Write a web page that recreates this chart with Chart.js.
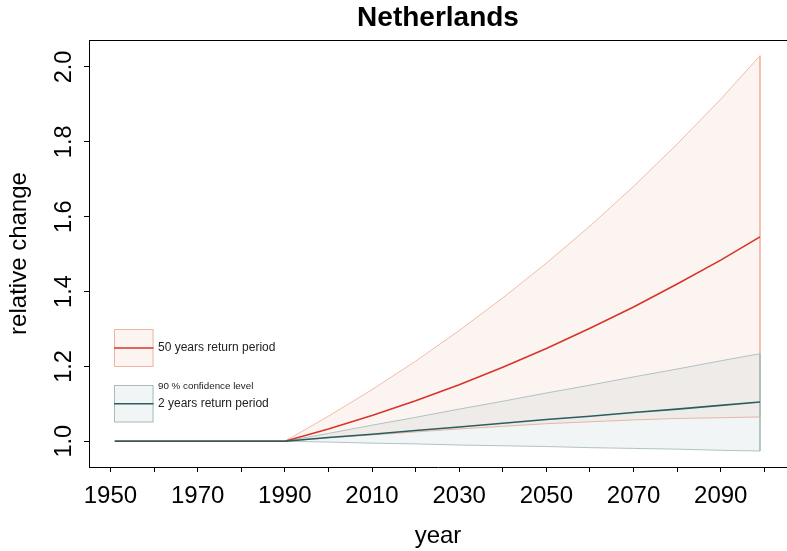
<!DOCTYPE html>
<html>
<head>
<meta charset="utf-8">
<title>Netherlands – relative change</title>
<script src="https://cdn.jsdelivr.net/npm/chart.js@4"></script>
<style>
  html, body { margin: 0; padding: 0; background: #fff; }
  canvas { display: block; }
</style>
</head>
<body>
<canvas id="chart" width="787" height="551"></canvas>
<script>
// Years at which the projections are given (flat baseline until 1990)
const years = [1951, 1990, 2000, 2010, 2020, 2030, 2040, 2050, 2060, 2070, 2080, 2090, 2099];

// 50 years return period: median and 90 % confidence band
const rp50Median = [1, 1, 1.033, 1.069, 1.108, 1.151, 1.198, 1.248, 1.302, 1.359, 1.420, 1.484, 1.546];
const rp50Upper  = [1, 1, 1.067, 1.138, 1.214, 1.296, 1.383, 1.476, 1.575, 1.681, 1.794, 1.914, 2.030];
const rp50Lower  = [1, 1, 1.009, 1.017, 1.025, 1.033, 1.040, 1.047, 1.052, 1.057, 1.061, 1.063, 1.065];

// 2 years return period: median and 90 % confidence band
const rp2Median = [1, 1, 1.010, 1.019, 1.029, 1.038, 1.048, 1.058, 1.067, 1.077, 1.086, 1.096, 1.105];
const rp2Upper  = [1, 1, 1.021, 1.043, 1.064, 1.086, 1.107, 1.129, 1.150, 1.172, 1.193, 1.215, 1.234];
const rp2Lower  = [1, 1, 0.998, 0.995, 0.993, 0.990, 0.988, 0.986, 0.983, 0.981, 0.979, 0.976, 0.974];

// Axis ticks and labels
const xTickYears  = [1950, 1960, 1970, 1980, 1990, 2000, 2010, 2020, 2030, 2040, 2050, 2060, 2070, 2080, 2090, 2100];
const xLabelYears = [1950, 1970, 1990, 2010, 2030, 2050, 2070, 2090];
const yTickValues = [1.0, 1.2, 1.4, 1.6, 1.8, 2.0];
const yTickLabels = ['1.0', '1.2', '1.4', '1.6', '1.8', '2.0'];

// Texts
const chartTitle = 'Netherlands';
const xTitle = 'year';
const yTitle = 'relative change';
const legendBandLabel = '90 % confidence level';
const legend50Label = '50 years return period';
const legend2Label = '2 years return period';

// Colours
const col50Line = '#d6352a';
const col50Edge = '#f1b4a0';
const col50Fill = 'rgba(220,120,80,0.08)';
const col2Line  = '#2b5e5e';
const col2Edge  = '#a9bcbc';
const col2Fill  = 'rgba(70,120,130,0.075)';

const FONT = "'Liberation Sans', Arial, Helvetica, sans-serif";

// Closed outline of a band: upper edge forward, lower edge backward
function bandPolygon(xs, upper, lower) {
  const pts = xs.map((x, i) => ({ x, y: upper[i] }));
  for (let i = xs.length - 1; i >= 0; i--) pts.push({ x: xs[i], y: lower[i] });
  return pts;
}
function series(xs, ys) {
  return xs.map((x, i) => ({ x, y: ys[i] }));
}

// Rotated y tick labels, legend and top frame line
const decorations = {
  id: 'decorations',
  afterDraw(chart) {
    const { ctx, chartArea, scales } = chart;
    const ys = scales.y;

    ctx.save();
    // frame: top edge
    ctx.strokeStyle = '#000';
    ctx.lineWidth = 1;
    ctx.beginPath();
    ctx.moveTo(chartArea.left, chartArea.top + 0.5);
    ctx.lineTo(chartArea.right, chartArea.top + 0.5);
    ctx.stroke();

    // y tick labels, reading upwards
    ctx.fillStyle = '#000';
    ctx.font = '23.5px ' + FONT;
    ctx.textAlign = 'center';
    ctx.textBaseline = 'alphabetic';
    yTickValues.forEach((v, i) => {
      const py = ys.getPixelForValue(v);
      ctx.save();
      ctx.translate(chartArea.left - 18, py);
      ctx.rotate(-Math.PI / 2);
      ctx.fillText(yTickLabels[i], 0, 0);
      ctx.restore();
    });

    // legend
    const bx = 114, bw = 39.5;
    function legendEntry(top, h, fill, edge, line) {
      ctx.fillStyle = '#fff';
      ctx.fillRect(bx, top, bw, h);
      ctx.fillStyle = fill;
      ctx.fillRect(bx, top, bw, h);
      ctx.strokeStyle = edge;
      ctx.lineWidth = 1;
      ctx.strokeRect(bx + 0.5, top + 0.5, bw - 1, h - 1);
      ctx.strokeStyle = line;
      ctx.lineWidth = 1.6;
      ctx.beginPath();
      ctx.moveTo(bx, top + h / 2);
      ctx.lineTo(bx + bw, top + h / 2);
      ctx.stroke();
    }
    legendEntry(329, 38, col50Fill, col50Edge, col50Line);
    legendEntry(385, 37.5, col2Fill, col2Edge, col2Line);

    ctx.fillStyle = '#222';
    ctx.textAlign = 'left';
    ctx.textBaseline = 'middle';
    ctx.font = '12px ' + FONT;
    ctx.fillText(legend50Label, 158, 348);
    ctx.fillText(legend2Label, 158, 404);
    ctx.font = '9.8px ' + FONT;
    ctx.fillText(legendBandLabel, 158, 386);
    ctx.restore();
  }
};

Chart.defaults.font.family = FONT;
Chart.defaults.color = '#000';

new Chart(document.getElementById('chart'), {
  type: 'line',
  data: {
    datasets: [
      {
        label: legend50Label + ' band',
        data: bandPolygon(years, rp50Upper, rp50Lower),
        borderColor: col50Edge,
        borderWidth: 0.9,
        backgroundColor: col50Fill,
        fill: 'shape',
        pointRadius: 0,
        tension: 0,
        order: 4
      },
      {
        label: legend2Label + ' band',
        data: bandPolygon(years, rp2Upper, rp2Lower),
        borderColor: col2Edge,
        borderWidth: 0.9,
        backgroundColor: col2Fill,
        fill: 'shape',
        pointRadius: 0,
        tension: 0,
        order: 3
      },
      {
        label: legend50Label,
        data: series(years, rp50Median),
        borderColor: col50Line,
        borderWidth: 1.6,
        fill: false,
        pointRadius: 0,
        tension: 0,
        order: 2
      },
      {
        label: legend2Label,
        data: series(years, rp2Median),
        borderColor: col2Line,
        borderWidth: 1.6,
        fill: false,
        pointRadius: 0,
        tension: 0,
        order: 1
      }
    ]
  },
  options: {
    responsive: false,
    animation: false,
    devicePixelRatio: 1,
    layout: { padding: 0 },
    plugins: {
      legend: { display: false },
      tooltip: { enabled: false },
      title: {
        display: true,
        text: chartTitle,
        fullSize: false,
        color: '#000',
        font: { size: 28, weight: 'bold' },
        padding: { top: 1.5, bottom: 4.9 }
      }
    },
    scales: {
      x: {
        type: 'linear',
        min: 1945.08,
        max: 2105.2,
        afterBuildTicks: (s) => { s.ticks = xTickYears.map(v => ({ value: v })); },
        afterFit: (s) => { s.height = 84; },
        ticks: {
          autoSkip: false,
          maxRotation: 0,
          minRotation: 0,
          padding: 10,
          color: '#000',
          font: { size: 24 },
          callback: (v) => (xLabelYears.includes(v) ? String(v) : '')
        },
        grid: { display: true, drawOnChartArea: false, drawTicks: true, tickLength: 5, color: '#000', lineWidth: 1 },
        border: { display: true, color: '#000', width: 1 },
        title: { display: true, text: xTitle, color: '#000', font: { size: 24 }, padding: { top: 0, bottom: 0 } }
      },
      y: {
        type: 'linear',
        min: 0.9313,
        max: 2.0721,
        afterBuildTicks: (s) => { s.ticks = yTickValues.map(v => ({ value: v })); },
        afterFit: (s) => { s.width = 89; },
        ticks: { display: false },
        grid: { display: true, drawOnChartArea: false, drawTicks: true, tickLength: 5, color: '#000', lineWidth: 1 },
        border: { display: true, color: '#000', width: 1 },
        title: { display: true, text: yTitle, color: '#000', font: { size: 24 }, padding: { top: 5, bottom: 0 } }
      }
    }
  },
  plugins: [decorations]
});
</script>
</body>
</html>
